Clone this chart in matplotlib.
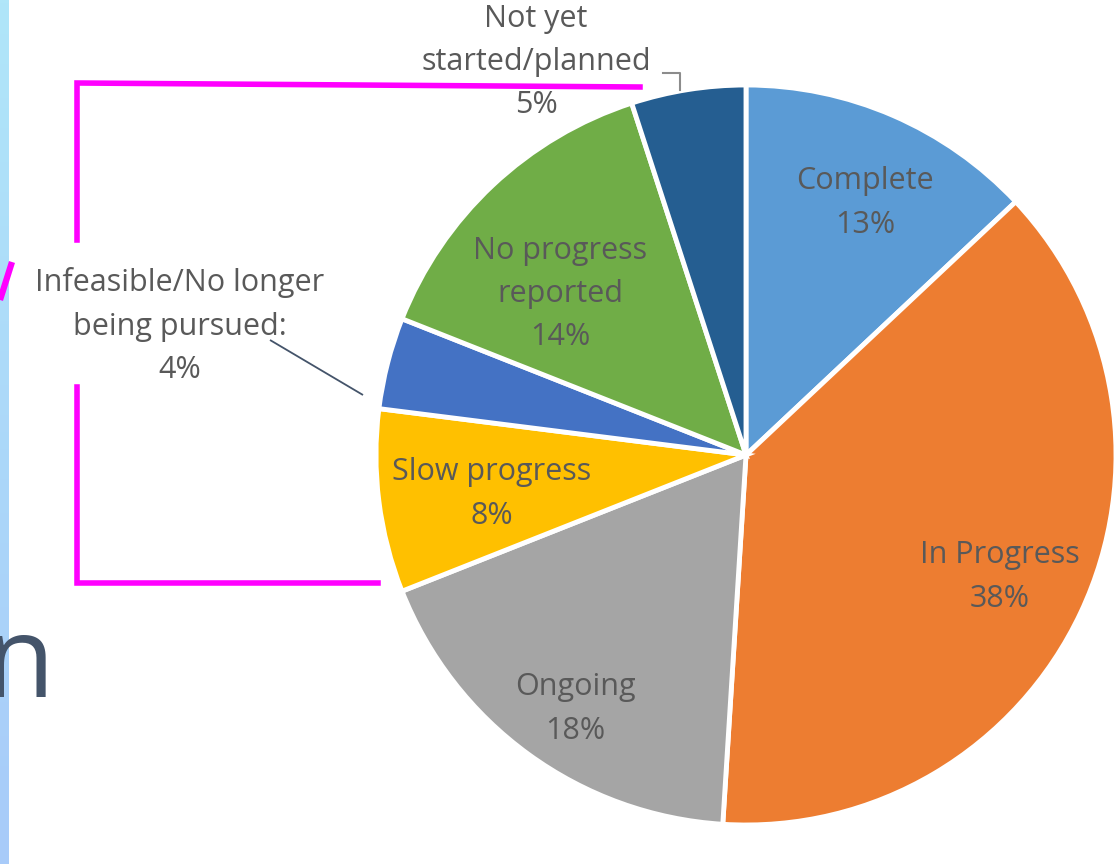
import numpy as np
import matplotlib
matplotlib.use("Agg")
import matplotlib.pyplot as plt
from matplotlib.colors import LinearSegmentedColormap

# Data
categories = ["Complete", "In Progress", "Ongoing", "Slow progress",
              "Infeasible/No longer being pursued", "No progress reported",
              "Not yet started/planned"]
values = [13, 38, 18, 8, 4, 14, 5]
colors = ["#5B9BD5", "#ED7D31", "#A5A5A5", "#FFC000", "#4472C4", "#70AD47", "#255E91"]
label_texts = ["Complete\n13%", "In Progress\n38%", "Ongoing\n18%", "Slow progress\n8%",
               "Infeasible/No longer\nbeing pursued:\n4%", "No progress\nreported\n14%",
               "Not yet\nstarted/planned\n5%"]

W, H = 1118, 864
fig = plt.figure(figsize=(W / 100, H / 100), dpi=100)
ax = fig.add_axes([0, 0, 1, 1])

def Y(y):
    return H - y

cx, cy, R = 746, 455, 370
ax.pie(values, colors=colors, startangle=90, counterclock=False,
       center=(cx, Y(cy)), radius=R,
       wedgeprops=dict(edgecolor="white", linewidth=3.5))

# label positions (pixel coords)
label_pos = [(865, 203), (1000, 577), (575, 709), (492, 494),
             (180, 326), (560, 294), (536, 62)]
txtcol = "#595959"
for t, (x, y) in zip(label_texts, label_pos):
    ax.text(x, Y(y), t, ha="center", va="center", fontsize=22, color=txtcol,
            family="Open Sans", linespacing=1.58)

# leader lines
ax.plot([270, 363], [Y(340), Y(395)], color="#44546A", lw=1.3, solid_capstyle="butt")
ax.plot([663, 680, 680], [Y(73), Y(73), Y(90)], color="#8C8C8C", lw=1.5)

# magenta bracket decoration
mag = "#FF00FF"
ax.plot([640, 77, 77], [Y(87), Y(83), Y(240)], color=mag, lw=4, solid_joinstyle="miter")
ax.plot([77, 77, 378], [Y(387), Y(583), Y(583)], color=mag, lw=4, solid_joinstyle="miter")

# left gradient strip
grad = np.linspace(0, 1, 256).reshape(-1, 1)
cmap = LinearSegmentedColormap.from_list("s", ["#B0E6F9", "#A8CBF9"])
ax.imshow(grad, cmap=cmap, extent=[0, 9, 0, H], aspect="auto", origin="upper", zorder=0)

# partial background text (clipped at the left edge as in the reference)
ax.plot([0, 12], [Y(300), Y(262)], color=mag, lw=4.5, solid_capstyle="butt")
ax.text(54, Y(697), "n", fontsize=82, color="#44546A", ha="right", va="baseline",
        family="Open Sans")

ax.set_xlim(0, W)
ax.set_ylim(0, H)
ax.axis("off")
fig.savefig("out.png", dpi=100)
